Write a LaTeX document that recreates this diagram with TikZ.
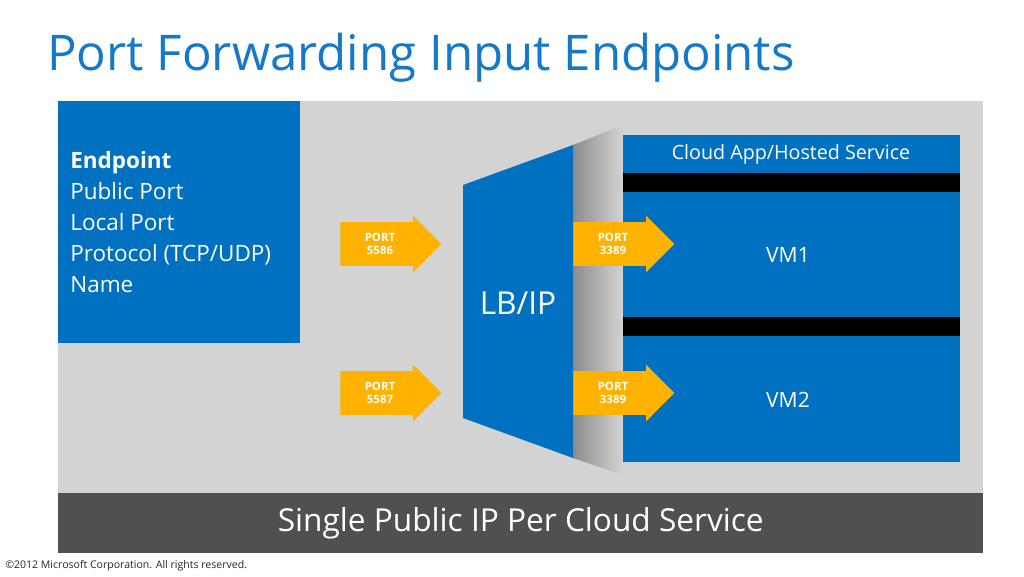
\documentclass[tikz,border=0pt]{standalone}
\usepackage{fontspec}
\setmainfont{Open Sans}
\usetikzlibrary{positioning, shapes.arrows}
\definecolor{azureBlue}{HTML}{0070C0}
\definecolor{titleBlue}{HTML}{1479C9}
\definecolor{panelGray}{HTML}{D3D3D3}
\definecolor{bandGray}{HTML}{505050}
\definecolor{portOrange}{HTML}{FFB300}

\begin{document}
\begin{tikzpicture}[x=0.02cm, y=-0.02cm,
    blk/.style={fill=#1, draw=none, inner sep=0, anchor=north west},
    portarrow/.style={single arrow, fill=portOrange, draw=none,
                      inner xsep=0, inner ysep=0.43cm,
                      minimum width=1.12cm, minimum height=2.02cm,
                      single arrow head extend=0.13cm, anchor=west},
    portlbl/.style={font=\bfseries\fontsize{6.5}{7.5}\selectfont, text=white,
                    align=center, inner sep=0},
    wlbl/.style={text=white, font=\fontsize{12}{14}\selectfont, inner sep=0}
  ]
  \useasboundingbox (0,0) rectangle (1024,576);
  \fill[white] (0,0) rectangle (1024,576);

  \node[anchor=base west, inner sep=0, text=titleBlue,
        font=\fontsize{28}{32}\selectfont] (title) at (47,70)
        {Port Forwarding Input Endpoints};

  % panel and bottom band
  \node[blk=panelGray, minimum width=18.5cm, minimum height=7.84cm] (panel) at (58,101) {};
  \node[blk=bandGray, minimum width=18.5cm, minimum height=1.2cm] (band) at (58,493) {};
  \node[text=white, font=\fontsize{18}{22}\selectfont, inner sep=0] (bandtxt)
        at (band.center) {Single Public IP Per Cloud Service};

  % endpoint description
  \node[blk=azureBlue, minimum width=4.84cm, minimum height=4.84cm] (endpt) at (58,101) {};
  \node[wlbl, anchor=north west, align=left, font=\fontsize{12.8}{17.6}\selectfont]
        (endptxt) at (70,151)
        {\textbf{Endpoint}\\Public Port\\Local Port\\Protocol (TCP/UDP)\\Name};

  % load balancer
  \shade[left color=black!45, right color=panelGray]
        (573,145) -- (623,125) -- (623,475) -- (573,458) -- cycle;
  \fill[azureBlue] (463,185) -- (573,145) -- (573,458) -- (463,418) -- cycle;
  \node[text=white, font=\fontsize{18}{22}\selectfont, inner sep=0] (lb) at (518,303) {LB/IP};

  % cloud service with VMs
  \node[blk=azureBlue, minimum width=6.74cm, minimum height=6.54cm] (cloud) at (623,135) {};
  \node[blk=black, minimum width=6.74cm, minimum height=0.38cm] (bar1) at (623,173) {};
  \node[blk=black, minimum width=6.74cm, minimum height=0.38cm] (bar2) at (623,317) {};
  \node[wlbl, font=\fontsize{11.2}{13}\selectfont] (cloudtxt) at (791,154) {Cloud App/Hosted Service};
  \node[wlbl] (vm1) at (788,255) {VM1};
  \node[wlbl] (vm2) at (788,400) {VM2};

  % port arrows
  \node[portarrow] (in1) at (340,244) {};
  \node[portarrow] (in2) at (340,393) {};
  \node[portarrow] (out1) at (573,244) {};
  \node[portarrow] (out2) at (573,393) {};
  \node[portlbl] (in1lbl) at (380,244) {PORT\\5586};
  \node[portlbl] (in2lbl) at (380,393) {PORT\\5587};
  \node[portlbl] (out1lbl) at (613,244) {PORT\\3389};
  \node[portlbl] (out2lbl) at (613,393) {PORT\\3389};

  \node[anchor=base west, inner sep=0, text=black!85,
        font=\fontsize{6}{7}\selectfont] (copy) at (5,568)
        {©2012 Microsoft Corporation. All rights reserved.};
\end{tikzpicture}
\end{document}
